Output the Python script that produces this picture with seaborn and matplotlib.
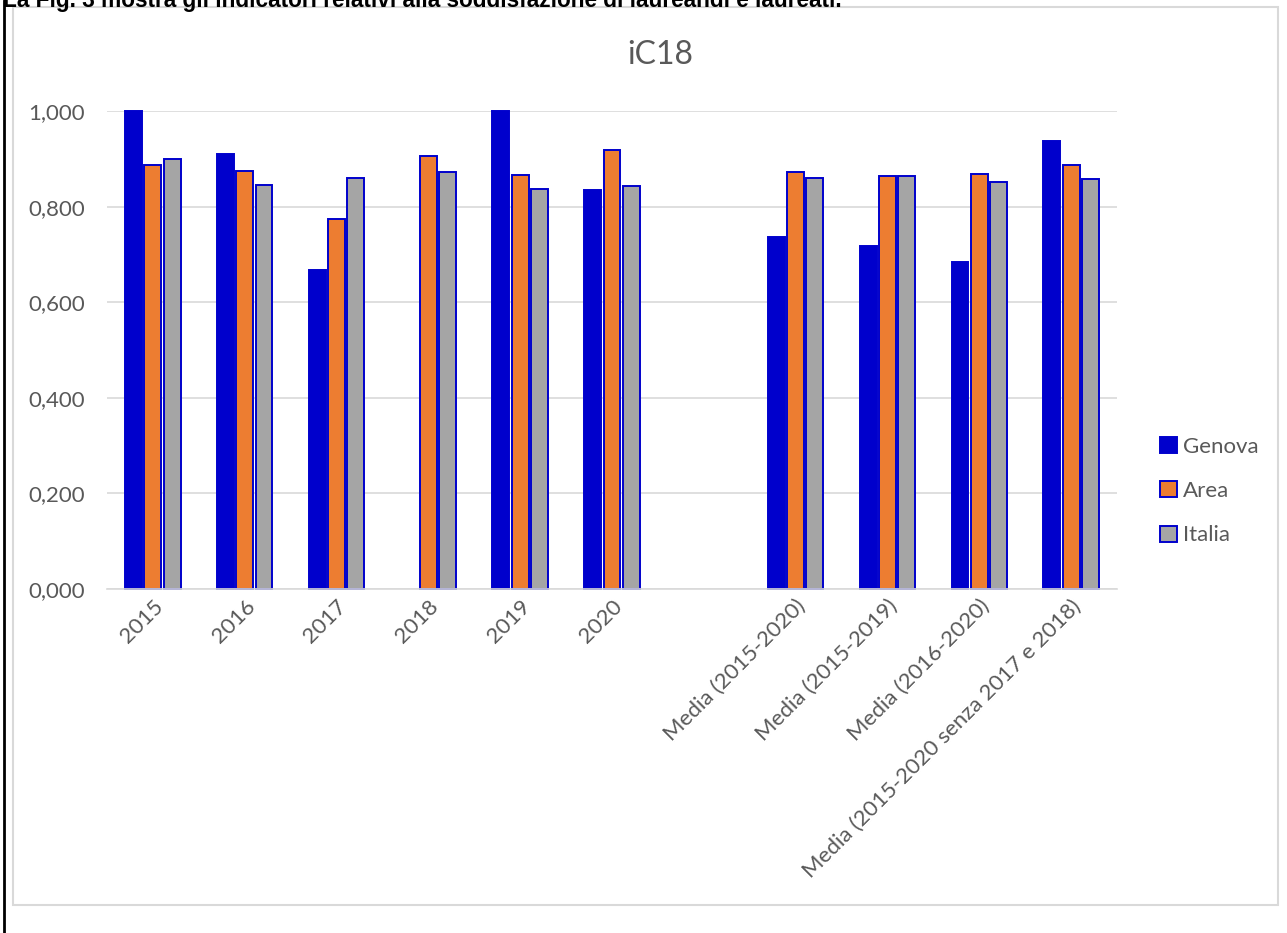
import numpy as np
import pandas as pd
import matplotlib
matplotlib.use("Agg")
import matplotlib.pyplot as plt
from matplotlib.patches import Rectangle, Patch
from matplotlib.lines import Line2D
from matplotlib.ticker import FuncFormatter
import seaborn as sns

categories = ["2015", "2016", "2017", "2018", "2019", "2020",
              "Media (2015-2020)", "Media (2015-2019)", "Media (2016-2020)",
              "Media (2015-2020 senza 2017 e 2018)"]
genova = [1.000, 0.911, 0.668, np.nan, 1.000, 0.834, 0.737, 0.717, 0.684, 0.937]
area = [0.887, 0.875, 0.775, 0.906, 0.866, 0.919, 0.872, 0.863, 0.868, 0.887]
italia = [0.900, 0.845, 0.859, 0.873, 0.837, 0.843, 0.860, 0.864, 0.852, 0.857]
series = ["Genova", "Area", "Italia"]
colors = ["#0000CC", "#ED7D31", "#A5A5A5"]
title = "iC18"
intro = "La Fig. 3 mostra gli indicatori relativi alla soddisfazione di laureandi e laureati."

df = pd.DataFrame({
    "cat": categories * 3,
    "serie": [s for s in series for _ in categories],
    "val": genova + area + italia,
})

sns.set_theme(style="white")
plt.rcParams["font.family"] = ["Lato", "DejaVu Sans"]

W, H = 1287, 933
fig = plt.figure(figsize=(W / 100, H / 100), dpi=100)
ax = fig.add_axes([107 / W, 1 - 589 / H, (1117 - 107) / W, (589 - 111) / H])

gap_cat = " "
order = categories[:6] + [gap_cat] + categories[6:]
sns.barplot(data=df, x="cat", y="val", hue="serie", order=order, hue_order=series,
            palette=colors, width=0.63, gap=0.12, edgecolor="#0000CC", linewidth=1.4,
            ax=ax, legend=False, errorbar=None, saturation=1)
for p in ax.patches:
    p.set_clip_on(False)

ax.set_ylim(0, 1.0)
ax.set_xlim(-0.5, len(order) - 0.5)
ax.set_yticks(np.arange(0, 1.01, 0.2))
ax.yaxis.set_major_formatter(FuncFormatter(lambda v, _: f"{v:.3f}".replace(".", ",")))
ax.grid(axis="y", color="#D9D9D9", linewidth=1.2)
ax.set_axisbelow(True)
for s in ["top", "right", "left"]:
    ax.spines[s].set_visible(False)
ax.spines["bottom"].set_color("#D9D9D9")
ax.spines["bottom"].set_linewidth(1.2)
ax.set_xlabel("")
ax.set_ylabel("")
ax.tick_params(axis="both", length=0, labelsize=16, labelcolor="#595959")
ax.tick_params(axis="y", pad=16)
ax.set_xticks(range(len(order)))
ax.set_xticklabels(order, rotation=45, ha="right", rotation_mode="anchor")
ax.tick_params(axis="x", pad=5)

fig.text(660 / W, 1 - 55 / H, title, ha="center", va="center", fontsize=23, color="#595959")

handles = [Patch(facecolor=c, edgecolor="#0000CC", linewidth=1.4) for c in colors]
leg = fig.legend(handles, series, loc="center left", bbox_to_anchor=(1140 / W, 1 - 491 / H),
                 frameon=False, fontsize=16, labelspacing=1.1, handlelength=0.75,
                 handleheight=0.75, handletextpad=0.3, labelcolor="#595959")

# outer chart frame and page elements
fig.patches.append(Rectangle((13 / W, 1 - 905 / H), (1278 - 13) / W, (905 - 7) / H,
                             transform=fig.transFigure, fill=False, edgecolor="#D9D9D9",
                             linewidth=1.5))
fig.lines.append(Line2D([4 / W, 4 / W], [0, 1], transform=fig.transFigure, color="black",
                        linewidth=2))
fig.text(3 / W, 1 - 7 / H, intro, ha="left", va="baseline", fontsize=16.3, fontweight="bold",
         family=["Liberation Sans", "DejaVu Sans"], color="black")

fig.savefig("out.png", dpi=100, facecolor="white")
